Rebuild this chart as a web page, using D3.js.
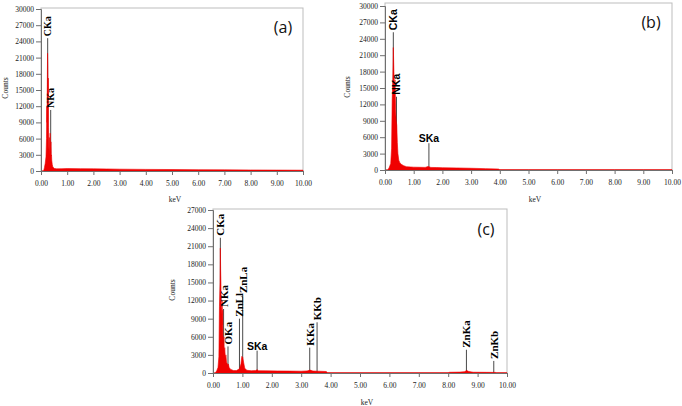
<!DOCTYPE html>
<html>
<head>
<meta charset="utf-8">
<script src="https://cdn.jsdelivr.net/npm/d3@7"></script>
<style>
  body { margin: 0; background: #fff; }
  svg { display: block; }
  .axis path, .axis line { stroke: #6f6f6f; }
</style>
</head>
<body>
<svg id="chart" width="682" height="406"></svg>
<script>
// ---- data ----
let xTickValues = [0, 1, 2, 3, 4, 5, 6, 7, 8, 9, 10];
let yTicksAB = [0, 3000, 6000, 9000, 12000, 15000, 18000, 21000, 24000, 27000, 30000];
let yTicksC = [0, 3000, 6000, 9000, 12000, 15000, 18000, 21000, 24000, 27000];

// panel (a)
let aKeV = [0.00, 0.10, 0.13, 0.16, 0.19, 0.21, 0.22, 0.23, 0.24, 0.25, 0.26, 0.27, 0.28, 0.29, 0.30, 0.31, 0.32, 0.33, 0.34, 0.35, 0.36, 0.37, 0.38, 0.39, 0.40, 0.41, 0.43, 0.45, 0.48, 0.52, 0.60, 0.80, 1.00, 1.50, 2.00, 2.50, 3.00, 4.00, 5.00, 6.00, 7.00, 8.00, 9.00, 10.00];
let aCounts = [0, 0, 600, 1400, 2600, 6000, 12000, 9000, 16000, 21800, 19500, 14000, 17200, 8000, 4500, 3500, 6200, 3000, 4200, 7000, 5000, 3200, 5400, 2800, 3000, 2000, 1200, 800, 600, 450, 400, 420, 450, 430, 400, 380, 340, 300, 270, 240, 210, 190, 170, 150];
let aPeakNames = ["CKa", "NKa"];
let aPeakKeV = [0.255, 0.37];
let aPeakTop = [24600, 11300];

// panel (b)
let bKeV = [0.00, 0.10, 0.15, 0.20, 0.23, 0.25, 0.27, 0.29, 0.31, 0.33, 0.35, 0.37, 0.39, 0.41, 0.43, 0.45, 0.48, 0.52, 0.58, 0.65, 0.75, 0.90, 1.00, 1.20, 1.40, 1.50, 1.60, 1.80, 2.00, 2.50, 3.00, 3.50, 3.95, 4.00, 5.00, 6.00, 7.00, 8.00, 9.00, 10.00];
let bCounts = [0, 0, 500, 1200, 4000, 12800, 16000, 22400, 18000, 15000, 16500, 11000, 9000, 8200, 5000, 3000, 1800, 1300, 1000, 800, 600, 550, 520, 500, 480, 650, 470, 450, 420, 380, 320, 250, 180, 60, 50, 50, 50, 50, 50, 50];
let bPeakNames = ["CKa", "NKa", "SKa"];
let bPeakKeV = [0.29, 0.40, 1.53];
let bPeakTop = [25200, 13400, 4900];

// panel (c)
let cKeV = [0.00, 0.08, 0.13, 0.17, 0.20, 0.22, 0.24, 0.25, 0.26, 0.27, 0.28, 0.29, 0.30, 0.31, 0.32, 0.33, 0.34, 0.35, 0.36, 0.37, 0.38, 0.40, 0.42, 0.44, 0.46, 0.48, 0.50, 0.52, 0.55, 0.60, 0.70, 0.80, 0.90, 0.95, 0.98, 1.01, 1.04, 1.08, 1.15, 1.30, 1.45, 1.50, 1.55, 1.80, 2.20, 2.60, 3.00, 3.20, 3.30, 3.40, 3.60, 3.85, 3.90, 5.00, 7.00, 8.00, 8.05, 8.40, 8.55, 8.63, 8.70, 8.85, 9.30, 9.60, 9.65, 10.00];
let cCounts = [0, 0, 400, 900, 2700, 11000, 15000, 20700, 17000, 14900, 11000, 10800, 9600, 12000, 8000, 10400, 6000, 5000, 3400, 6000, 3200, 4200, 2500, 3000, 1800, 1600, 1300, 1500, 900, 600, 400, 400, 700, 1500, 2750, 2600, 1800, 800, 450, 380, 400, 550, 380, 360, 340, 320, 300, 350, 480, 330, 300, 250, 40, 40, 40, 40, 120, 150, 220, 420, 250, 130, 110, 100, 40, 40];
let cPeakNames = ["CKa", "NKa", "OKa", "ZnLl", "ZnLa", "SKa", "KKa", "KKb", "ZnKa", "ZnKb"];
let cPeakKeV = [0.25, 0.36, 0.51, 0.90, 1.01, 1.50, 3.29, 3.54, 8.62, 9.55];
let cPeakTop = [22400, 10600, 4400, 9000, 12900, 3700, 4200, 8400, 3850, 2000];

const SERIF = "'Liberation Serif', 'Times New Roman', serif";
const SANS = "'Liberation Sans', Arial, sans-serif";

// ---- layout of the three panels ----
let panels = [
    { tag: "(a)", keV: aKeV, counts: aCounts, names: aPeakNames, peakKeV: aPeakKeV, peakTop: aPeakTop,
      yTicks: yTicksAB, yMax: 30000, left: 41, right: 303, top: 9, bottom: 171, frameTop: 8,
      tagX: 283, tagY: 27, countsX: 5, countsY: 88, keVX: 175, keVY: 199,
      serif: true, sans: [] },
    { tag: "(b)", keV: bKeV, counts: bCounts, names: bPeakNames, peakKeV: bPeakKeV, peakTop: bPeakTop,
      yTicks: yTicksAB, yMax: 30000, left: 385, right: 672, top: 6, bottom: 170, frameTop: 3,
      tagX: 651, tagY: 22, countsX: 347, countsY: 87, keVX: 535, keVY: 199,
      serif: false, sans: [] },
    { tag: "(c)", keV: cKeV, counts: cCounts, names: cPeakNames, peakKeV: cPeakKeV, peakTop: cPeakTop,
      yTicks: yTicksC, yMax: 27000, left: 213, right: 507, top: 210, bottom: 373, frameTop: 209,
      tagX: 486, tagY: 229, countsX: 172, countsY: 290, keVX: 367, keVY: 402,
      serif: true, sans: ["SKa"] }
];

let svg = d3.select("#chart");

function drawPanel(p) {
    let g = svg.append("g");

    let x = d3.scaleLinear().domain([0, 10]).range([p.left, p.right]);
    let y = d3.scaleLinear().domain([0, p.yMax]).range([p.bottom, p.top]);

    // light frame round the plot
    g.append("rect")
        .attr("x", p.left)
        .attr("y", p.frameTop)
        .attr("width", p.right - p.left)
        .attr("height", p.bottom - p.frameTop)
        .attr("fill", "none")
        .attr("stroke", "#bdbdbd")
        .attr("stroke-width", 1);

    // marker lines under the spectrum
    let peaks = p.names.map(function (n, i) {
        return { name: n, keV: p.peakKeV[i], top: p.peakTop[i] };
    });

    g.selectAll("line.marker")
        .data(peaks)
        .enter()
        .append("line")
        .attr("class", "marker")
        .attr("x1", d => x(d.keV))
        .attr("x2", d => x(d.keV))
        .attr("y1", y(0))
        .attr("y2", d => y(d.top))
        .attr("stroke", "#4a4a4a")
        .attr("stroke-width", 1);

    // the spectrum itself
    let points = p.keV.map(function (k, i) { return { keV: k, count: p.counts[i] }; });
    let area = d3.area()
        .x(d => x(d.keV))
        .y0(y(0))
        .y1(d => y(d.count));

    g.append("path")
        .datum(points)
        .attr("d", area)
        .attr("fill", "#f00000")
        .attr("stroke", "#f00000")
        .attr("stroke-width", 0.6);

    // axes
    let yAxis = g.append("g")
        .attr("class", "axis")
        .attr("transform", `translate(${p.left},0)`)
        .call(d3.axisLeft(y).tickValues(p.yTicks).tickSize(5).tickPadding(2).tickFormat(d => d));

    let xAxis = g.append("g")
        .attr("class", "axis")
        .attr("transform", `translate(0,${p.bottom})`)
        .call(d3.axisBottom(x).tickValues(xTickValues).tickSize(4).tickPadding(6).tickFormat(d3.format(".2f")));

    [yAxis, xAxis].forEach(function (ax) {
        ax.attr("font-family", SERIF).attr("font-size", 7.5);
        ax.selectAll("text").attr("fill", "#222");
    });

    // peak labels
    g.selectAll("text.peak")
        .data(peaks)
        .enter()
        .append("text")
        .attr("class", "peak")
        .attr("transform", function (d) {
            if (d.name === "SKa") return `translate(${x(d.keV)},${y(d.top) - 1})`;
            return `translate(${x(d.keV)},${y(d.top) - 2}) rotate(-90)`;
        })
        .style("text-anchor", d => d.name === "SKa" ? "middle" : "start")
        .attr("dominant-baseline", d => d.name === "SKa" ? "alphabetic" : "central")
        .style("font-family", function (d) {
            let sans = !p.serif || p.sans.indexOf(d.name) >= 0;
            return sans ? SANS : SERIF;
        })
        .style("font-size", function (d) {
            let sans = !p.serif || p.sans.indexOf(d.name) >= 0;
            if (sans) return "10.5px";
            return p.tag === "(a)" ? "10px" : "11px";
        })
        .style("font-weight", "bold")
        .attr("fill", "#000")
        .text(d => d.name);

    // axis titles
    g.append("text")
        .attr("transform", `translate(${p.countsX},${p.countsY}) rotate(-90)`)
        .style("text-anchor", "middle")
        .attr("dominant-baseline", "central")
        .style("font-family", SERIF)
        .style("font-size", "7.5px")
        .attr("fill", "#222")
        .text("Counts");

    g.append("text")
        .attr("x", p.keVX)
        .attr("y", p.keVY)
        .style("text-anchor", "middle")
        .attr("dominant-baseline", "central")
        .style("font-family", SERIF)
        .style("font-size", "7.5px")
        .attr("fill", "#222")
        .text("keV");

    // panel tag
    g.append("text")
        .attr("x", p.tagX)
        .attr("y", p.tagY)
        .style("text-anchor", "middle")
        .attr("dominant-baseline", "central")
        .style("font-family", "'Open Sans', 'Liberation Sans', sans-serif")
        .style("font-size", "16px")
        .attr("fill", "#111")
        .text(p.tag);
}

panels.forEach(drawPanel);
</script>
</body>
</html>
